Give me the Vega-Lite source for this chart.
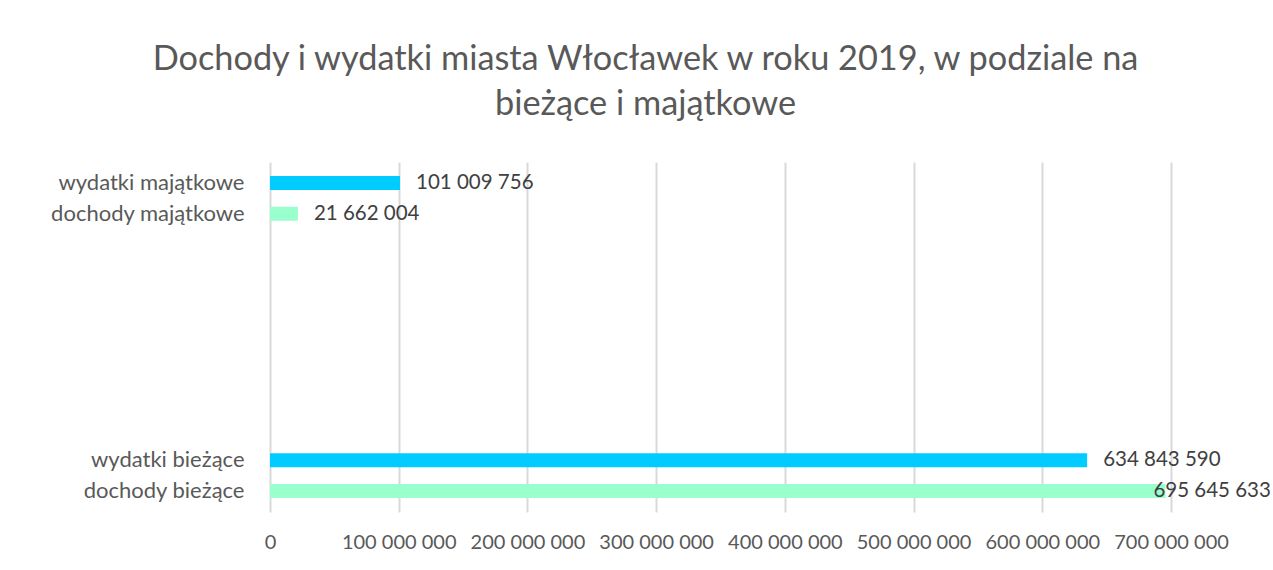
{
  "$schema": "https://vega.github.io/schema/vega-lite/v6.json",
  "width": 901,
  "height": 350,
  "autosize": {"type": "none"},
  "padding": {"left": 270, "top": 162, "right": 102, "bottom": 58},
  "background": "white",
  "config": {
    "locale": {"number": {"decimal": ",", "thousands": " ", "grouping": [3], "currency": ["", " zł"]}},
    "view": {"stroke": null},
    "font": "Lato"
  },
  "title": {
    "text": ["Dochody i wydatki miasta Włocławek w roku 2019, w podziale na", "bieżące i majątkowe"],
    "fontSize": 34.3,
    "fontWeight": "normal",
    "font": "Lato",
    "color": "#595959",
    "lineHeight": 45,
    "anchor": "middle",
    "dx": -75,
    "offset": 40
  },
  "data": {
    "values": [
      {"label": "wydatki majątkowe", "typ": "wydatki", "value": 101009756},
      {"label": "dochody majątkowe", "typ": "dochody", "value": 21662004},
      {"label": "wydatki bieżące", "typ": "wydatki", "value": 634843590},
      {"label": "dochody bieżące", "typ": "dochody", "value": 695645633}
    ]
  },
  "encoding": {
    "y": {
      "field": "label",
      "type": "nominal",
      "sort": null,
      "scale": {
        "domain": ["wydatki majątkowe", "dochody majątkowe", "s1", "s2", "s3", "s4", "s5", "s6", "s7", "wydatki bieżące", "dochody bieżące"],
        "paddingInner": 0.546,
        "paddingOuter": 0.454
      },
      "axis": {
        "title": null,
        "domain": false,
        "ticks": false,
        "grid": false,
        "labelPadding": 26,
        "labelFontSize": 22,
        "labelLimit": 400,
        "labelFont": "Lato",
        "labelColor": "#595959",
        "labelExpr": "length(datum.value) < 3 ? '' : datum.value"
      }
    },
    "x": {
      "field": "value",
      "type": "quantitative",
      "scale": {"domain": [0, 700000000], "nice": false},
      "axis": {
        "title": null,
        "domain": false,
        "ticks": false,
        "grid": true,
        "gridColor": "#d9d9d9",
        "gridWidth": 2,
        "values": [0, 100000000, 200000000, 300000000, 400000000, 500000000, 600000000, 700000000],
        "format": ",d",
        "labelPadding": 20,
        "labelFontSize": 20,
        "labelFont": "Lato",
        "labelColor": "#595959",
        "labelFlush": false,
        "labelOverlap": false
      }
    }
  },
  "layer": [
    {
      "mark": {"type": "bar", "stroke": null},
      "encoding": {
        "color": {
          "field": "typ",
          "type": "nominal",
          "scale": {"domain": ["wydatki", "dochody"], "range": ["#00CCFF", "#99FFCC"]},
          "legend": null
        }
      }
    },
    {
      "mark": {"type": "text", "align": "left", "baseline": "middle", "dx": {"expr": "datum.value > 650000000 ? -12 : 16"}, "fontSize": 20.5, "font": "Lato", "color": "#404040", "clip": false},
      "encoding": {
        "text": {"field": "value", "type": "quantitative", "format": ",d"}
      }
    }
  ]
}
